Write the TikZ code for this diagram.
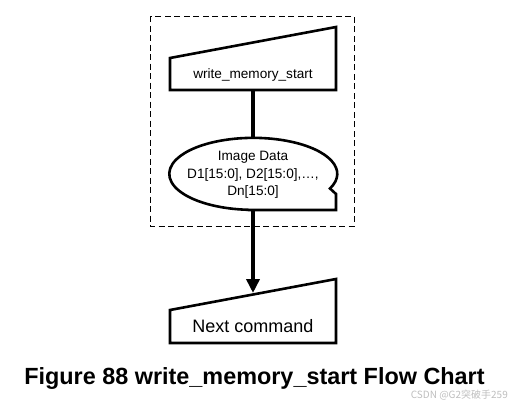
\documentclass[tikz,border=0pt]{standalone}
\usepackage{fontspec}
\setmainfont{Liberation Sans}
\newfontfamily\cjkfont{Noto Sans CJK SC}
\usetikzlibrary{arrows.meta}
\definecolor{wmgray}{RGB}{190,190,190}
\tikzset{
  shapeline/.style={line width=2.6pt, line join=miter},
  flowline/.style={line width=4pt},
  groupbox/.style={line width=0.9pt, dash pattern=on 6pt off 3.5pt},
  boxtext/.style={font=\fontsize{13.6}{17.5}\selectfont, align=center, inner sep=0pt},
}
\begin{document}
\begin{tikzpicture}[x=1pt,y=1pt]
\useasboundingbox (0,0) rectangle (512,-405);
% dashed group box
\draw[groupbox] (150,-16) rectangle (354,-226);
% first manual-input box
\draw[shapeline] (170,-58) -- (336,-27) -- (336,-90) -- (170,-90) -- cycle;
\node[boxtext] (start) at (253,-75) {write\_memory\_start};
\coordinate (startb) at (253,-90);
% data shape
\draw[shapeline] (253,-210) -- (336,-210) -- (336,-194) -- (330,-188.5)
  arc[start angle=-24, end angle=270, x radius=84, y radius=36] -- cycle;
\node[boxtext] (data) at (253,-175) {Image Data\\D1[15:0], D2[15:0],…,\\Dn[15:0]};
\coordinate (datat) at (253,-138);
\coordinate (datab) at (253,-210);
% second manual-input box
\draw[shapeline] (170,-310) -- (336,-279) -- (336,-343) -- (170,-343) -- cycle;
\node[font=\fontsize{18}{20}\selectfont, inner sep=0pt] (next) at (253,-326) {Next command};
\coordinate (nextt) at (253,-293);
% connectors
\draw[flowline] (startb) -- (datat);
\draw[flowline, -{Triangle[length=14pt, width=13pt]}] (datab) -- (nextt);
% caption
\node[font=\fontsize{23.4}{26}\selectfont\bfseries, inner sep=0pt] (cap) at (254.5,-378) {Figure 88 write\_memory\_start Flow Chart};
\node[font=\cjkfont\fontsize{10}{12}\selectfont, text=wmgray, inner sep=0pt, anchor=east] (wm) at (508,-395) {CSDN @G2突破手259};
\end{tikzpicture}
\end{document}
